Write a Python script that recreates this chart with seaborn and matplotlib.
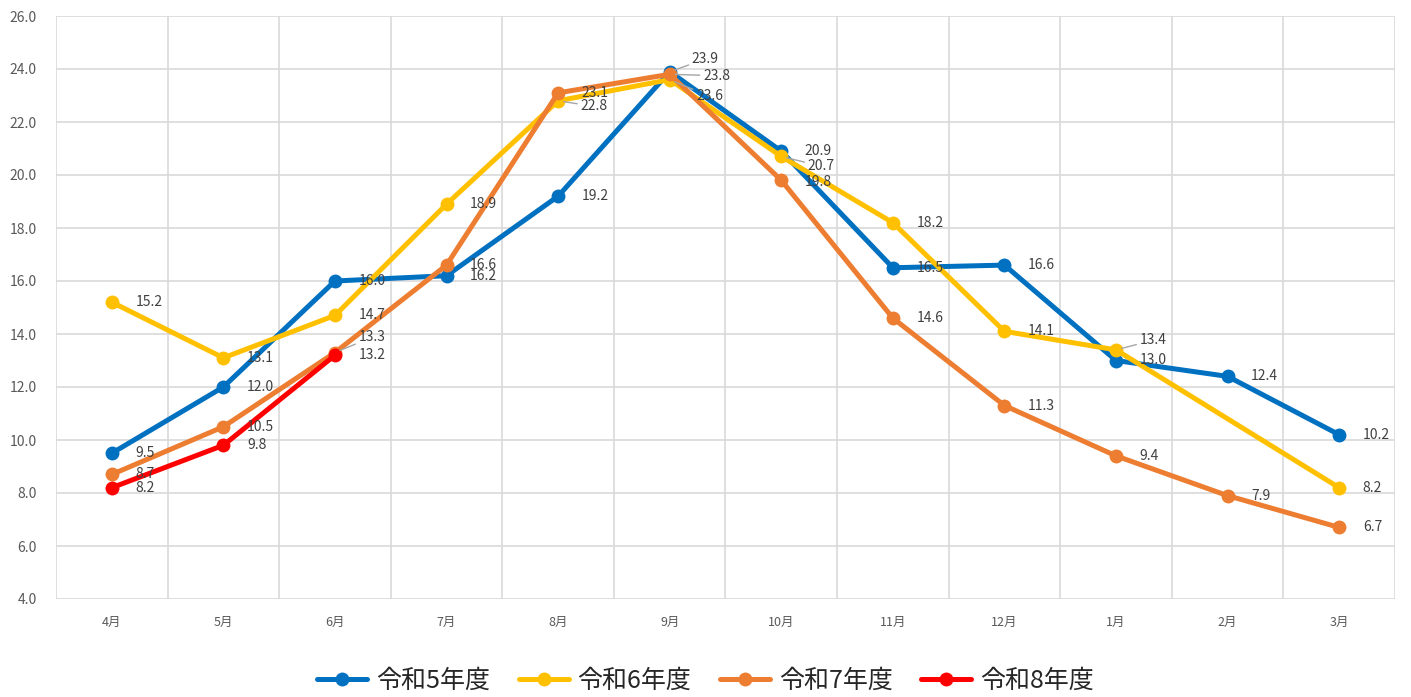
import numpy as np
import pandas as pd
import seaborn as sns
import matplotlib.pyplot as plt
from matplotlib.lines import Line2D

months = ['4月', '5月', '6月', '7月', '8月', '9月', '10月', '11月', '12月', '1月', '2月', '3月']
series_names = ['令和5年度', '令和6年度', '令和7年度', '令和8年度']
r5 = [9.5, 12.0, 16.0, 16.2, 19.2, 23.9, 20.9, 16.5, 16.6, 13.0, 12.4, 10.2]
r6 = [15.2, 13.1, 14.7, 18.9, 22.8, 23.6, 20.7, 18.2, 14.1, 13.4, np.nan, 8.2]
r7 = [8.7, 10.5, 13.3, 16.6, 23.1, 23.8, 19.8, 14.6, 11.3, 9.4, 7.9, 6.7]
r8 = [8.2, 9.8, 13.2]
colors = ['#0070C0', '#FFC000', '#ED7D31', '#FF0000']

sns.set_style('white')
plt.rcParams['font.family'] = ['Noto Sans CJK JP', 'DejaVu Sans']

rows = []
for name, vals in zip(series_names, [r5, r6, r7, r8]):
    for i, v in enumerate(vals):
        rows.append({'series': name, 'pos': i, 'value': v})
df = pd.DataFrame(rows).dropna()

fig = plt.figure(figsize=(14.11, 6.97), dpi=100)
ax = fig.add_axes([56 / 1411, 1 - 599 / 697, (1395 - 56) / 1411, (599 - 16) / 697])

sns.lineplot(data=df, x='pos', y='value', hue='series', palette=colors,
             hue_order=series_names, marker='o', markersize=10, markeredgewidth=0,
             linewidth=3.6, sort=False, estimator=None, legend=False, ax=ax)

# label offsets in points (default: right of the point), + is up
offsets = {
    (0, 5): (16, 9),
    (1, 4): (16, -4),
    (1, 5): (19, -12),
    (1, 6): (19, -7),
    (1, 9): (17, 7),
    (2, 5): (24, -1),
    (2, 6): (17, -1),
    (2, 2): (17, 11),
}
leaders = {(0, 5), (1, 4), (1, 5), (1, 6), (1, 9), (2, 5), (2, 2)}

for s, vals in enumerate([r5, r6, r7, r8]):
    for i, v in enumerate(vals):
        if np.isnan(v):
            continue
        dx, dy = offsets.get((s, i), (17, 0))
        props = None
        if (s, i) in leaders:
            props = dict(arrowstyle='-', color='#A6A6A6', lw=1, shrinkA=0, shrinkB=4)
        ax.annotate(f'{v:.1f}', (i, v), xytext=(dx, dy), textcoords='offset points',
                    ha='left', va='center', fontsize=10, color='#404040',
                    arrowprops=props, zorder=5)

ax.set_xlim(-0.5, 11.5)
ax.set_ylim(4, 26)
ax.set_yticks(np.arange(4, 26.1, 2))
ax.set_yticklabels([f'{t:.1f}' for t in np.arange(4, 26.1, 2)], fontsize=10, color='#595959')
ax.set_xticks(range(12))
ax.set_xticklabels(months, fontsize=9, color='#595959')
ax.set_xticks(np.arange(-0.5, 11.6, 1), minor=True)
ax.tick_params(axis='both', which='both', length=0)
ax.tick_params(axis='x', pad=12)
ax.tick_params(axis='y', pad=14)
ax.grid(axis='y', which='major', color='#D9D9D9', linewidth=1.2)
ax.grid(axis='x', which='minor', color='#D9D9D9', linewidth=1.2)
ax.grid(axis='x', which='major', visible=False)
ax.set_axisbelow(True)
for sp in ax.spines.values():
    sp.set_visible(False)
ax.set_xlabel('')
ax.set_ylabel('')

handles = [Line2D([0], [0], color=c, lw=3.6, marker='o', markersize=10, markeredgewidth=0)
           for c in colors]
fig.legend(handles, series_names, loc='center', bbox_to_anchor=(0.5, 1 - 681 / 697),
           ncol=4, frameon=False, fontsize=18, handlelength=2.0, columnspacing=1.15,
           handletextpad=0.35)

fig.savefig('out.png', dpi=100)
